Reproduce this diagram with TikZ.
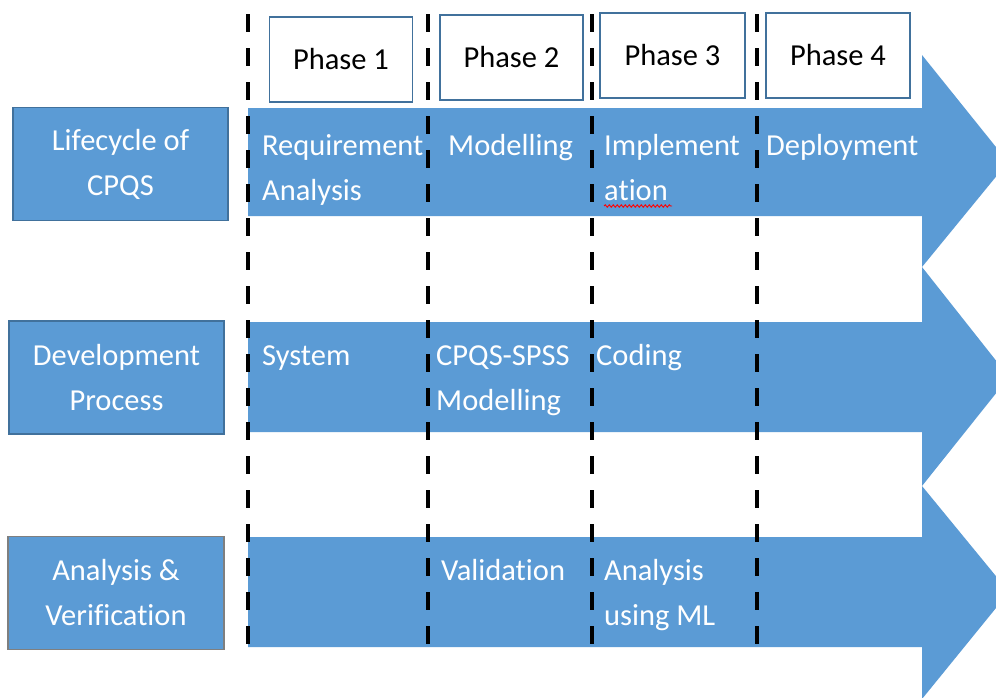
\documentclass[tikz,border=0pt]{standalone}
\usepackage{fontspec}
\setmainfont[Ligatures=NoCommon]{Carlito}
\usetikzlibrary{decorations.pathmorphing}
\definecolor{bandblue}{HTML}{5B9BD5}
\definecolor{edgeblue}{HTML}{41719C}
\definecolor{edgegrey}{HTML}{7F7F7F}
\begin{document}
\begin{tikzpicture}[x=1pt, y=-1pt,
  band/.style={fill=bandblue},
  row head/.style={rectangle, fill=bandblue, draw=edgeblue, line width=1.2pt, minimum width=215pt, minimum height=113pt, text=white, align=center, font=\fontsize{30.5}{45}\selectfont},
  phase box/.style={rectangle, draw=edgeblue, line width=1.2pt, fill=white, minimum width=143pt, minimum height=85pt, font=\fontsize{30.5}{45}\selectfont},
  cell/.style={anchor=base west, inner sep=0pt, text=white, align=left, font=\fontsize{30.5}{45}\selectfont},
  divider/.style={draw=black, line width=3.5pt, dash pattern=on 18pt off 16pt}]
\useasboundingbox (0,0) rectangle (996,697);
\fill[white] (0,0) rectangle (996,697);
% the three arrows
\begin{scope}
\clip (0,0) rectangle (996,697);
\fill[band] (248,108) -- (922,108) -- (922,55) -- (1008,162) -- (922,267) -- (922,216) -- (248,216) -- cycle;
\fill[band] (248,322) -- (922,322) -- (922,267) -- (1009,377) -- (922,486) -- (922,432) -- (248,432) -- cycle;
\fill[band] (248,537) -- (922,537) -- (922,486) -- (1009,592) -- (922,699) -- (922,647) -- (248,647) -- cycle;
\end{scope}
% phase borders
\draw[divider] (248,14) -- (248,650);
\draw[divider] (428,14) -- (428,650);
\draw[divider] (592,14) -- (592,650);
\draw[divider] (757,14) -- (757,650);
\node[phase box] (p1) at (341,59.5) {Phase 1};
\node[phase box] (p2) at (511.5,57.5) {Phase 2};
\node[phase box, minimum width=145pt] (p3) at (672.5,55.5) {Phase 3};
\node[phase box, minimum width=144pt] (p4) at (838,55.5) {Phase 4};
\node[row head] (life) at (120.5,164) {Lifecycle of\\CPQS};
\node[row head] (devp) at (116.5,377.5) {Development\\Process};
\node[row head, draw=edgegrey, minimum width=216pt] (anver) at (116,593) {Analysis \&\\Verification};
% base of a two-line cell is its last line
\node[cell] (req) at (262,200) {Requirement\\Analysis};
\node[cell] (mod) at (448,155) {Modelling};
\node[cell] (impl) at (604,200) {Implement\\ation};
\node[cell] (dep) at (766,155) {Deployment};
\node[cell] (sys) at (262,365) {System};
\node[cell] (spss) at (436,410) {CPQS-SPSS\\Modelling};
\node[cell] (cod) at (596,365) {Coding};
\node[cell] (val) at (441,580) {Validation};
\node[cell] (aml) at (604,625) {Analysis\\using ML};
\draw[red, line width=0.9pt, decorate, decoration={snake, segment length=4pt, amplitude=1.2pt}] (604,206) -- (672,206);
\end{tikzpicture}
\end{document}
